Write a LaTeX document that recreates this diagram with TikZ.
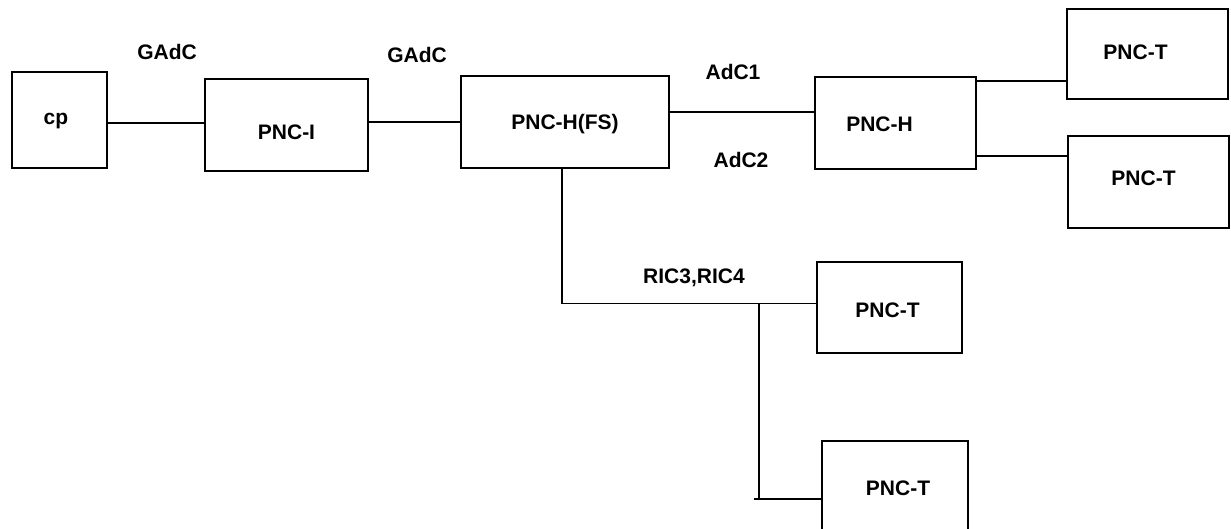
\documentclass[tikz,border=0pt]{standalone}
\usepackage{fontspec}
\setmainfont{Liberation Sans}
\usepackage{tikz}

\begin{document}
\begin{tikzpicture}[x=1pt,y=-1pt,line width=1.2pt,
  unit/.style={draw,inner sep=0pt,outer sep=0pt},
  tag/.style={font=\fontsize{21}{25}\selectfont\bfseries,inner sep=0pt}]
\useasboundingbox (0,0) rectangle (1231,528);
\clip (0,0) rectangle (1231,528);

\node[unit,minimum width=95pt,minimum height=96pt,
  label={[tag,xshift=-3.5pt,yshift=-1pt]center:cp}] (cp) at (59.5,120) {};
\node[unit,minimum width=163pt,minimum height=92pt,
  label={[tag,yshift=-7pt]center:PNC-I}] (pnci) at (286.5,125) {};
\node[unit,minimum width=208pt,minimum height=92pt,
  label={[tag,yshift=-2pt]center:PNC-H(FS)}] (fs) at (565,122) {};
\node[unit,minimum width=161pt,minimum height=92pt,
  label={[tag,xshift=-16pt,yshift=-1pt]center:PNC-H}] (pnch) at (895.5,123) {};
\node[unit,minimum width=161pt,minimum height=90pt,
  label={[tag,xshift=-12pt,yshift=2pt]center:PNC-T}] (t1) at (1147.5,54) {};
\node[unit,minimum width=161pt,minimum height=92pt,
  label={[tag,xshift=-5pt,yshift=4pt]center:PNC-T}] (t2) at (1148.5,182) {};
\node[unit,minimum width=145pt,minimum height=91pt,
  label={[tag,xshift=-2pt,yshift=-3pt]center:PNC-T}] (t3) at (889.5,307.5) {};
\node[unit,minimum width=146pt,minimum height=94pt,
  label={[tag,xshift=3pt]center:PNC-T}] (t4) at (895,488) {};

\draw ([yshift=-3pt]cp.east) -- ([yshift=-3pt]cp.east -| pnci.west);
\draw (pnci.east |- fs.west) -- (fs.west);
\draw ([yshift=10pt]fs.east) -- ([yshift=10pt]fs.east -| pnch.west);
\draw ([yshift=-4pt]pnch.north east) -- ([yshift=-4pt]pnch.north east -| t1.west);
\draw ([yshift=13pt]pnch.south east) -- ([yshift=13pt]pnch.south east -| t2.west);

% tree down to the lower PNC-T boxes
\coordinate (tap) at (759,304);
\coordinate (tapend) at (759,499);
\draw ([xshift=-3pt]fs.south) |- ([yshift=4pt]t3.west);
\draw (tap) -- (tapend);
\draw ([xshift=-5pt]tapend) -- (tapend -| t4.west);

\node[tag] (g1) at (167,52) {GAdC};
\node[tag] (g2) at (417,55) {GAdC};
\node[tag] (a1) at (733,72) {AdC1};
\node[tag] (a2) at (741,160) {AdC2};
\node[tag] (ric) at (694,278) {RIC3,RIC4};

\end{tikzpicture}
\end{document}
